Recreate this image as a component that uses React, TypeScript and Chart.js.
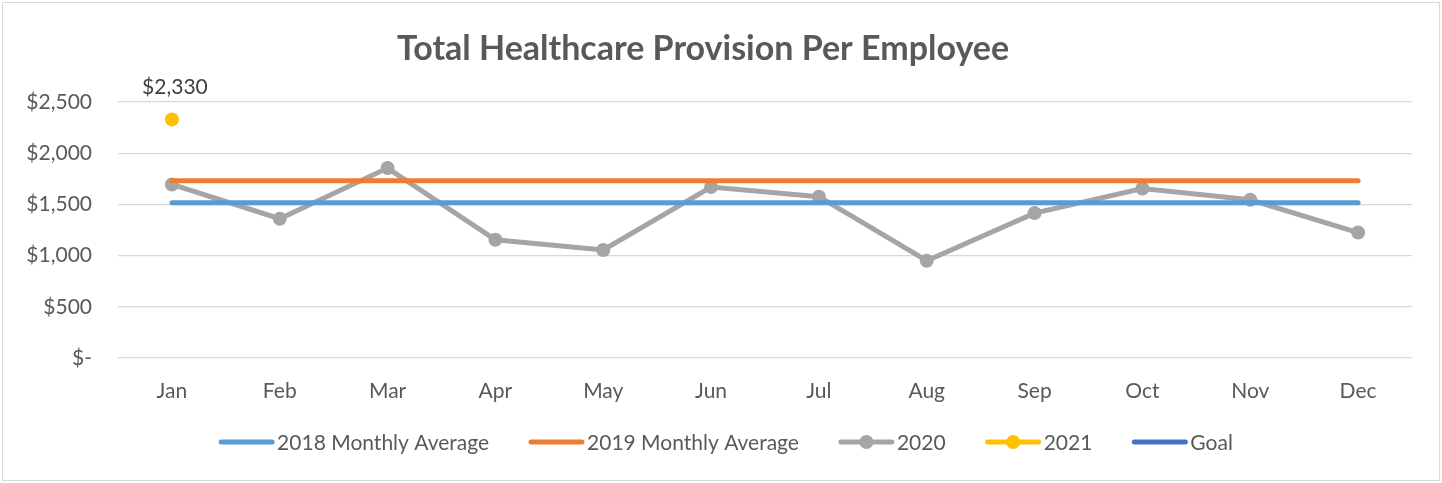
import React, { useEffect, useRef } from "react";
import { Chart, registerables } from "chart.js";

Chart.register(...registerables);

const months = ["Jan", "Feb", "Mar", "Apr", "May", "Jun", "Jul", "Aug", "Sep", "Oct", "Nov", "Dec"];
const avg2018 = [1515, 1515, 1515, 1515, 1515, 1515, 1515, 1515, 1515, 1515, 1515, 1515];
const avg2019 = [1730, 1730, 1730, 1730, 1730, 1730, 1730, 1730, 1730, 1730, 1730, 1730];
const values2020 = [1695, 1360, 1855, 1155, 1055, 1670, 1575, 950, 1415, 1655, 1545, 1225];
const values2021 = [2330, null, null, null, null, null, null, null, null, null, null, null];
const goal: (number | null)[] = [null, null, null, null, null, null, null, null, null, null, null, null];
const seriesNames = ["2018 Monthly Average", "2019 Monthly Average", "2020", "2021", "Goal"];
const yTicks = [0, 500, 1000, 1500, 2000, 2500];

const FONT = "Lato, 'Open Sans', sans-serif";
const TEXT = "#595959";
const colors = ["#5B9BD5", "#ED7D31", "#A5A5A5", "#FFC000", "#4472C4"];

const fmt = (v: number) => (v === 0 ? "$-" : "$" + v.toLocaleString("en-US"));

const overlay = {
  id: "overlay",
  afterDraw(chart: any) {
    const ctx = chart.ctx as CanvasRenderingContext2D;
    ctx.save();
    // title
    ctx.fillStyle = TEXT;
    ctx.font = `bold 34px ${FONT}`;
    ctx.textAlign = "center";
    ctx.textBaseline = "middle";
    ctx.fillText("Total Healthcare Provision Per Employee", 703, 49);
    // data label for 2021
    const meta = chart.getDatasetMeta(3);
    const pt = meta.data[0];
    if (pt) {
      ctx.font = `21px ${FONT}`;
      ctx.fillStyle = "#404040";
      ctx.fillText(fmt(values2021[0] as number), pt.x + 3, pt.y - 32);
    }
    // legend
    ctx.font = `21px ${FONT}`;
    ctx.textAlign = "left";
    const lineLen = 55;
    const gapText = 3;
    const gapItem = 40;
    const widths = seriesNames.map((n) => ctx.measureText(n).width);
    const total = widths.reduce((a, w) => a + lineLen + gapText + w, 0) + gapItem * (seriesNames.length - 1);
    let x = 726 - total / 2;
    const y = 442;
    seriesNames.forEach((n, i) => {
      ctx.strokeStyle = colors[i];
      ctx.lineWidth = 5;
      ctx.lineCap = "round";
      ctx.beginPath();
      ctx.moveTo(x + 2, y);
      ctx.lineTo(x + lineLen - 2, y);
      ctx.stroke();
      if (i === 2 || i === 3) {
        ctx.fillStyle = colors[i];
        ctx.beginPath();
        ctx.arc(x + lineLen / 2, y, 7, 0, Math.PI * 2);
        ctx.fill();
      }
      ctx.fillStyle = TEXT;
      ctx.fillText(n, x + lineLen + gapText, y + 1);
      x += lineLen + gapText + widths[i] + gapItem;
    });
    ctx.restore();
  },
};

export default function App() {
  const ref = useRef<HTMLCanvasElement>(null);
  useEffect(() => {
    if (!ref.current) return;
    const chart = new Chart(ref.current, {
      type: "line",
      data: {
        labels: months,
        datasets: [
          { label: seriesNames[0], data: avg2018, borderColor: colors[0], backgroundColor: colors[0], borderWidth: 5, pointRadius: 0, borderCapStyle: "round" },
          { label: seriesNames[1], data: avg2019, borderColor: colors[1], backgroundColor: colors[1], borderWidth: 5, pointRadius: 0, borderCapStyle: "round" },
          { label: seriesNames[2], data: values2020, borderColor: colors[2], backgroundColor: colors[2], borderWidth: 5, pointRadius: 7, pointBorderWidth: 0, borderCapStyle: "round" },
          { label: seriesNames[3], data: values2021, borderColor: colors[3], backgroundColor: colors[3], borderWidth: 5, pointRadius: 7, pointBorderWidth: 0 },
          { label: seriesNames[4], data: goal, borderColor: colors[4], backgroundColor: colors[4], borderWidth: 5, pointRadius: 0 },
        ],
      } as any,
      options: {
        animation: false,
        responsive: false,
        devicePixelRatio: 1,
        layout: { padding: { left: 0, top: 102, right: 30, bottom: 75 } },
        plugins: { legend: { display: false }, title: { display: false }, tooltip: { enabled: false } },
        scales: {
          x: {
            offset: true,
            grid: { display: false },
            border: { display: false },
            ticks: { color: TEXT, font: { family: FONT, size: 21 }, padding: 13 },
            afterFit: (s: any) => { s.height = 50; },
          },
          y: {
            min: 0,
            max: 2500,
            afterBuildTicks: (s: any) => { s.ticks = yTicks.map((v) => ({ value: v })); },
            grid: { color: "#d9d9d9", lineWidth: 1.3, drawTicks: false },
            border: { display: false },
            ticks: { color: TEXT, font: { family: FONT, size: 21 }, padding: 26, callback: (v: any) => fmt(Number(v)) },
            afterFit: (s: any) => { s.width = 118; },
          },
        },
      },
      plugins: [overlay],
    });
    return () => chart.destroy();
  }, []);
  return (
    <div style={{ position: "fixed", left: 0, top: 0, width: 1442, height: 483, background: "#fff" }}>
      <div style={{ position: "absolute", left: 2, top: 2, width: 1436, height: 477, border: "1px solid #d9d9d9" }} />
      <canvas ref={ref} width={1442} height={483} style={{ position: "absolute", left: 0, top: 0 }} />
    </div>
  );
}
